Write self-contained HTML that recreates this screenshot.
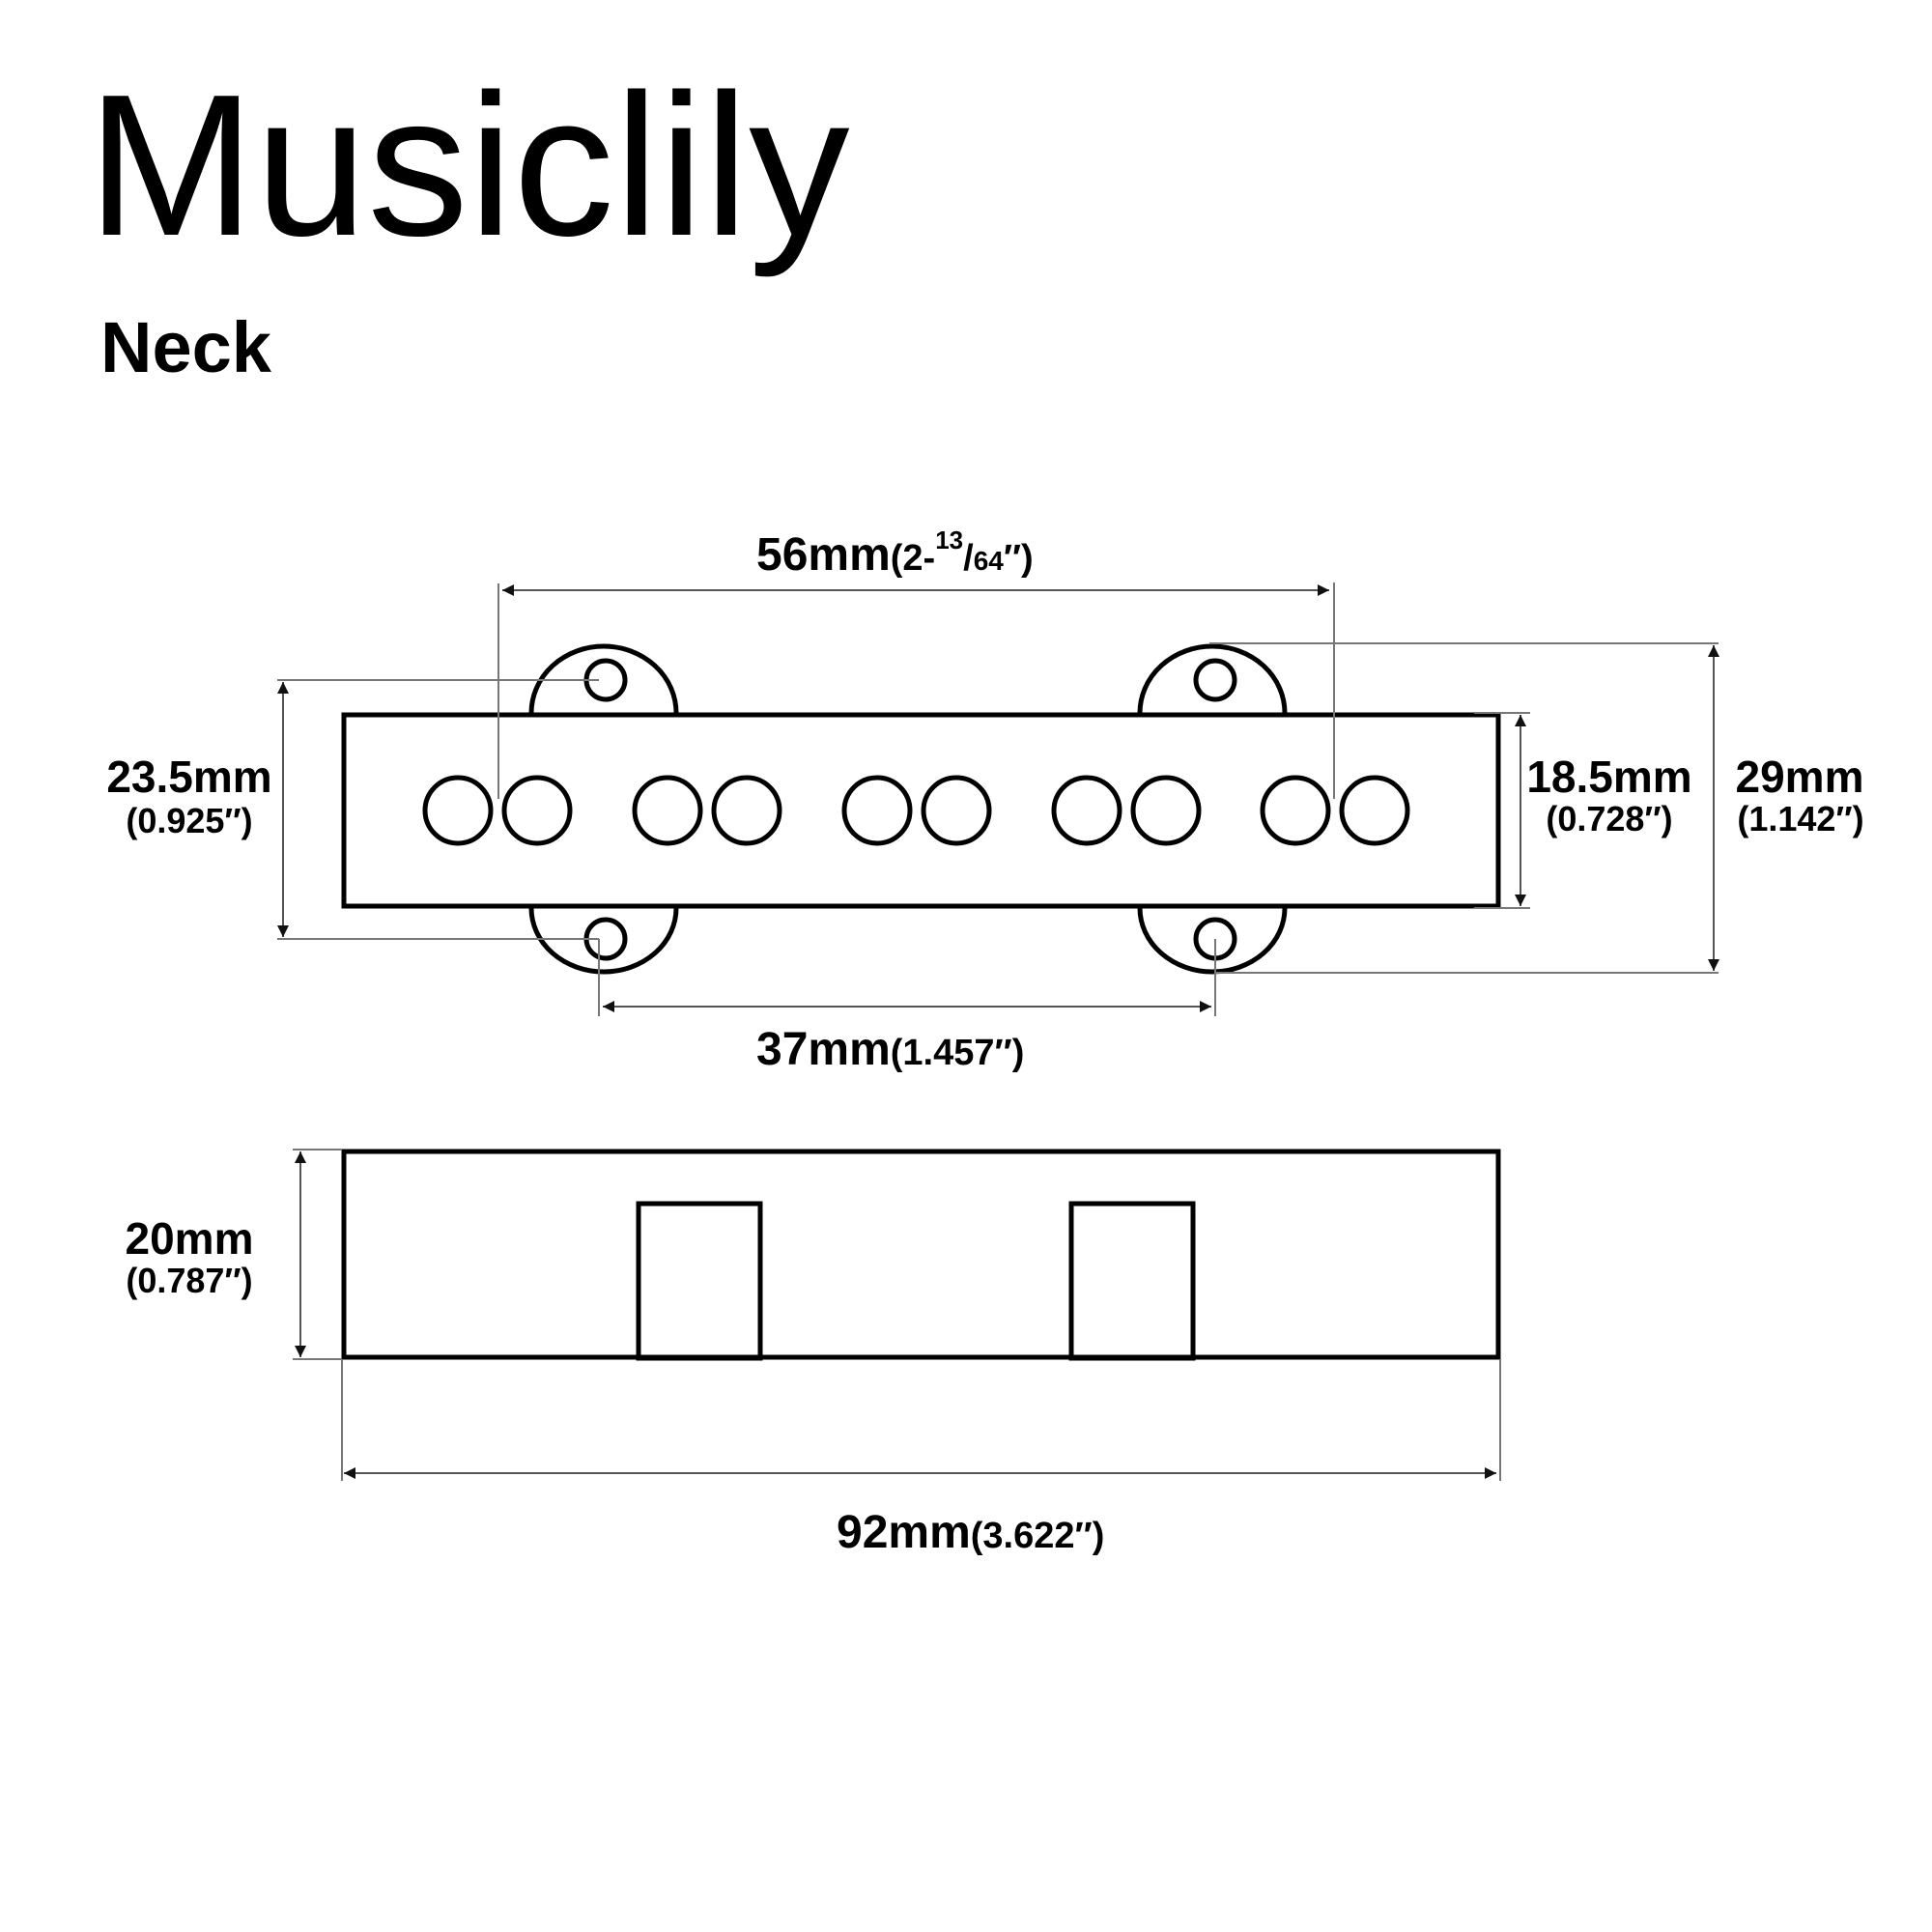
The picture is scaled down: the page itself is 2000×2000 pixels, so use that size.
<!DOCTYPE html>
<html><head><meta charset="utf-8"><style>
html,body{margin:0;padding:0;background:#fff;}
svg{display:block;}
text{font-family:"Liberation Sans",Arial,sans-serif;fill:#000;}
</style></head><body>
<svg width="2000" height="2000" viewBox="0 0 2000 2000" xmlns="http://www.w3.org/2000/svg">
<defs>
<marker id="a" viewBox="0 0 10 10" refX="10" refY="5" markerWidth="12" markerHeight="12" markerUnits="userSpaceOnUse" orient="auto-start-reverse"><path d="M0,0 L10,5 L0,10 z" fill="#111"/></marker>
</defs>
<rect width="2000" height="2000" fill="#fff"/>
<text x="90" y="243" font-size="209">Musiclily</text>
<text x="104" y="385" font-size="74" font-weight="bold">Neck</text>

<g fill="none" stroke="#000" stroke-width="5">
<path d="M550 738 A75 69 0 0 1 700 738"/>
<path d="M1180 738 A75 69 0 0 1 1330 738"/>
<path d="M550 940 A75 66 0 0 0 700 940"/>
<path d="M1180 940 A75 66 0 0 0 1330 940"/>
<circle cx="627" cy="704" r="20"/>
<circle cx="1258" cy="704" r="20"/>
<circle cx="627" cy="972" r="20"/>
<circle cx="1258" cy="972" r="20"/>
<rect x="356" y="740" width="1195" height="198" stroke-width="5"/>
<circle cx="474" cy="839" r="34"/><circle cx="556" cy="839" r="34"/>
<circle cx="691" cy="839" r="34"/><circle cx="773" cy="839" r="34"/>
<circle cx="908" cy="839" r="34"/><circle cx="990" cy="839" r="34"/>
<circle cx="1125" cy="839" r="34"/><circle cx="1207" cy="839" r="34"/>
<circle cx="1341" cy="839" r="34"/><circle cx="1423" cy="839" r="34"/>
<rect x="356" y="1192" width="1195" height="213"/>
<rect x="661" y="1246" width="126" height="160" stroke-width="5"/>
<rect x="1109" y="1246" width="126" height="160" stroke-width="5"/>
</g>

<g stroke="#777" stroke-width="2" fill="none">
<line x1="516" y1="604" x2="516" y2="827"/>
<line x1="1381" y1="603" x2="1381" y2="827"/>
<line x1="287" y1="704" x2="620" y2="704"/>
<line x1="287" y1="972" x2="620" y2="972"/>
<line x1="620" y1="972" x2="620" y2="1052"/>
<line x1="1258" y1="972" x2="1258" y2="1052"/>
<line x1="1526" y1="738" x2="1584" y2="738"/>
<line x1="1526" y1="940" x2="1584" y2="940"/>
<line x1="1252" y1="666" x2="1779" y2="666"/>
<line x1="1258" y1="1007" x2="1779" y2="1007"/>
<line x1="303" y1="1190" x2="354" y2="1190"/>
<line x1="303" y1="1407" x2="354" y2="1407"/>
<line x1="354" y1="1407" x2="354" y2="1533"/>
<line x1="1553" y1="1407" x2="1553" y2="1533"/>
</g>
<g stroke="#555" stroke-width="2" fill="none" marker-start="url(#a)" marker-end="url(#a)">
<line x1="520" y1="611" x2="1376" y2="611"/>
<line x1="293" y1="706" x2="293" y2="970"/>
<line x1="624" y1="1042" x2="1254" y2="1042"/>
<line x1="1574" y1="740" x2="1574" y2="938"/>
<line x1="1774" y1="668" x2="1774" y2="1005"/>
<line x1="311" y1="1192" x2="311" y2="1405"/>
<line x1="356" y1="1525" x2="1549" y2="1525"/>
</g>

<g font-weight="bold">
<text x="783" y="590" font-size="48">56mm<tspan font-size="38">(2-</tspan><tspan font-size="26" dy="-22">13</tspan><tspan font-size="38" dy="22">/</tspan><tspan font-size="28">64</tspan><tspan font-size="38">″)</tspan></text>
<text x="783" y="1102" font-size="48">37mm<tspan font-size="38">(1.457″)</tspan></text>
<text x="866" y="1602" font-size="48">92mm<tspan font-size="38">(3.622″)</tspan></text>
<text x="196" y="820" font-size="46" text-anchor="middle">23.5mm</text>
<text x="196" y="862" font-size="36" text-anchor="middle">(0.925″)</text>
<text x="196" y="1298" font-size="46" text-anchor="middle">20mm</text>
<text x="196" y="1338" font-size="36" text-anchor="middle">(0.787″)</text>
<text x="1666" y="820" font-size="46" text-anchor="middle">18.5mm</text>
<text x="1666" y="860" font-size="36" text-anchor="middle">(0.728″)</text>
<text x="1863" y="820" font-size="46" text-anchor="middle">29mm</text>
<text x="1864" y="860" font-size="36" text-anchor="middle">(1.142″)</text>
</g>
</svg>
</body></html>
